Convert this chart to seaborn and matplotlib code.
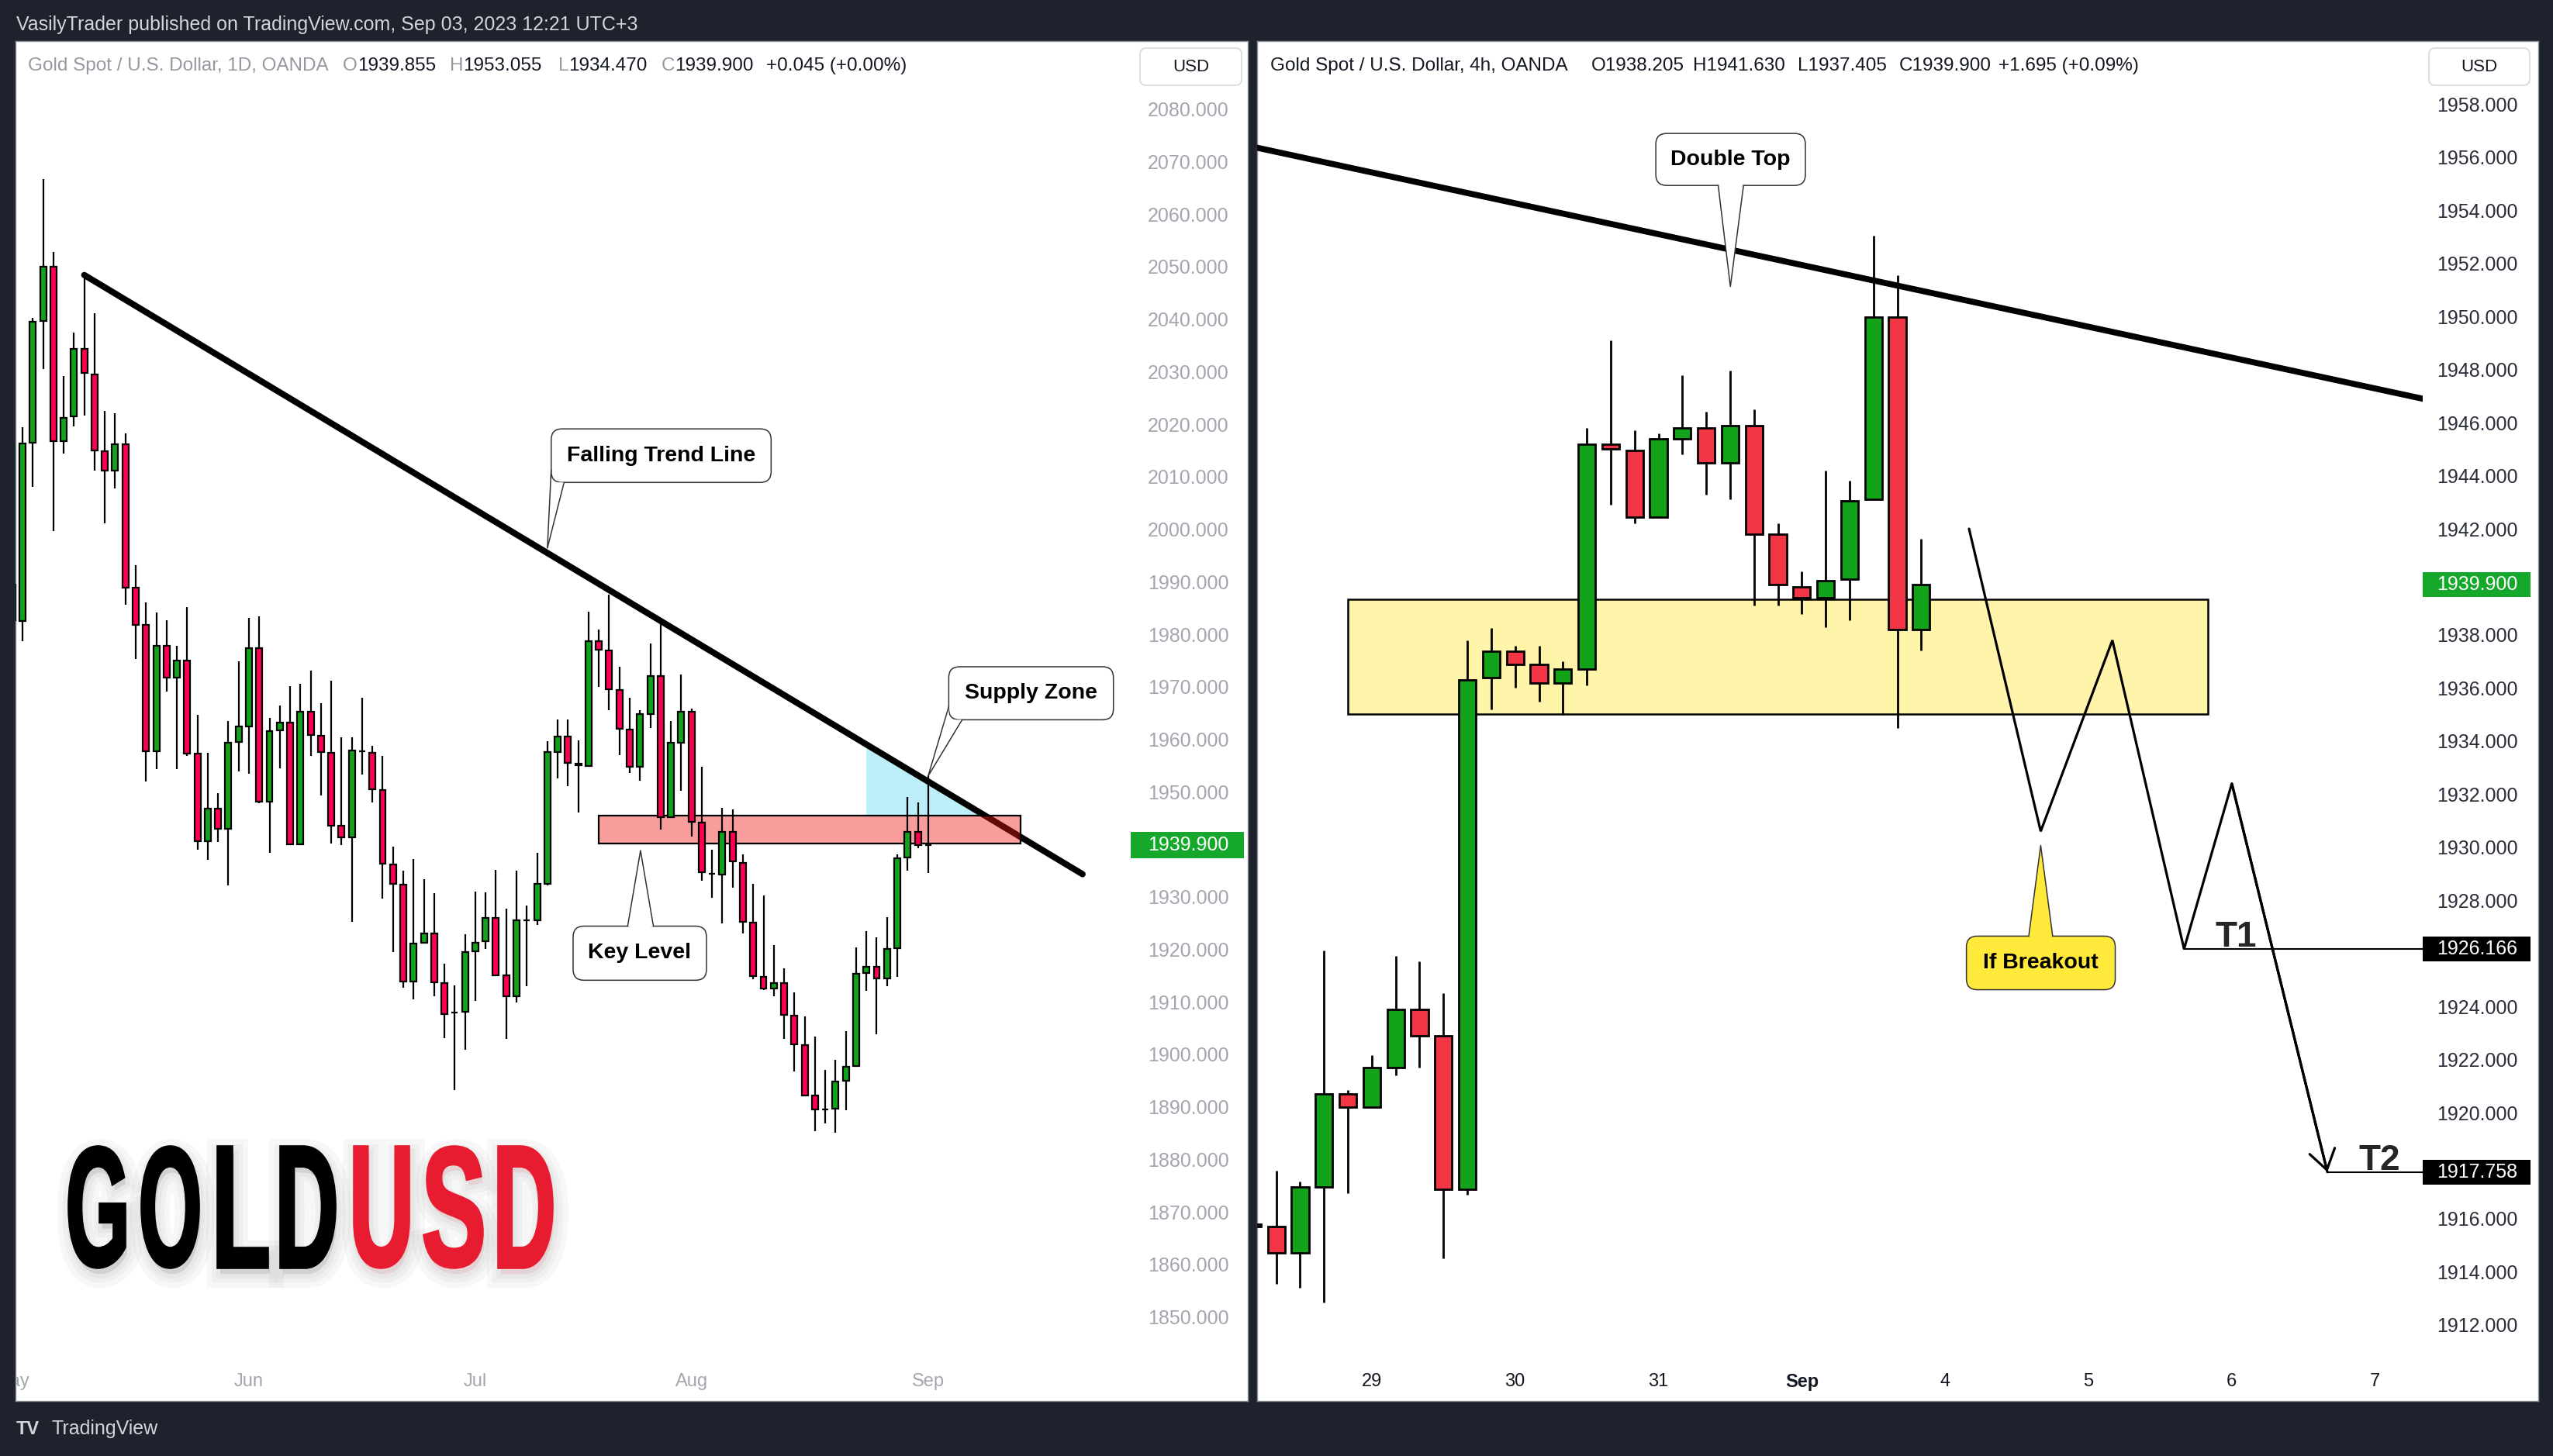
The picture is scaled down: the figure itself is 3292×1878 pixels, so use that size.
#!/usr/bin/env python3
"""
GOLD / USD - TradingView style snapshot: daily chart with falling trend line,
key level and supply zone, plus 4h chart with double top and breakout path.
Run: python plot.py  ->  out.png
"""

import numpy as np
import pandas as pd
import matplotlib
matplotlib.use("Agg")
import matplotlib.pyplot as plt
import matplotlib.patheffects as pe
import matplotlib.transforms as mtransforms
from matplotlib.patches import Rectangle, FancyBboxPatch, Polygon, PathPatch
from matplotlib.textpath import TextPath
from matplotlib.font_manager import FontProperties
from matplotlib.path import Path
import seaborn as sns

W, H, DPI = 3292, 1878, 100

# ═══════════════════════════════════════════════════════════════════════════════
# Data
# ═══════════════════════════════════════════════════════════════════════════════
# daily candles, index 0 = May 1 2023 ... 89 = Sep 1 2023
d_open = [1989.5, 1982.5, 2016.4, 2039.6, 2050.0, 2016.8, 2021.5, 2034.4, 2029.5, 2014.9,
          2011.1, 2016.1, 1988.8, 1981.8, 1957.7, 1977.8, 1971.7, 1975.0, 1957.3, 1940.6,
          1946.8, 1943.0, 1959.5, 1962.5, 1977.4, 1948.1, 1961.7, 1963.2, 1940.0, 1965.3,
          1960.7, 1957.4, 1943.5, 1941.3, 1957.7, 1957.4, 1950.3, 1936.1, 1932.3, 1913.9,
          1921.3, 1923.0, 1913.6, 1907.9, 1908.1, 1919.6, 1921.5, 1925.9, 1915.0, 1911.1,
          1925.5, 1925.5, 1932.4, 1957.5, 1960.5, 1955.3, 1954.9, 1978.7, 1976.9, 1969.4,
          1961.9, 1954.8, 1964.8, 1972.1, 1945.1, 1959.4, 1965.3, 1944.1, 1934.4, 1934.3,
          1942.4, 1936.4, 1925.1, 1914.8, 1912.5, 1913.6, 1907.4, 1901.7, 1892.1, 1889.5,
          1889.7, 1895.0, 1897.8, 1915.5, 1916.6, 1914.5, 1920.2, 1937.5, 1942.4, 1939.855]
d_high = [1992.0, 2019.4, 2040.3, 2066.7, 2052.8, 2029.2, 2037.5, 2048.4, 2041.1, 2022.5,
          2022.1, 2018.3, 1993.1, 1986.1, 1984.2, 1982.7, 1977.8, 1985.2, 1964.7, 1957.4,
          1949.7, 1963.4, 1974.8, 1983.1, 1983.4, 1964.0, 1966.4, 1970.1, 1970.6, 1973.1,
          1966.9, 1971.1, 1960.3, 1960.3, 1967.9, 1958.7, 1956.8, 1939.5, 1934.9, 1937.2,
          1933.3, 1930.7, 1917.2, 1913.1, 1922.8, 1931.0, 1930.8, 1935.1, 1927.7, 1934.9,
          1928.3, 1938.4, 1959.6, 1963.7, 1963.7, 1959.8, 1984.3, 1980.9, 1987.5, 1973.8,
          1967.9, 1965.6, 1978.3, 1981.9, 1963.5, 1972.3, 1965.8, 1954.8, 1938.9, 1946.9,
          1946.7, 1938.1, 1932.5, 1930.2, 1920.8, 1916.3, 1911.8, 1907.2, 1903.4, 1897.0,
          1898.9, 1904.4, 1920.4, 1923.4, 1922.3, 1926.1, 1938.0, 1949.0, 1947.9, 1953.055]
d_low = [1977.0, 1978.6, 2008.0, 2030.5, 1999.6, 2014.4, 2019.5, 2021.7, 2011.2, 2001.1,
         2007.8, 1985.6, 1975.3, 1952.0, 1954.3, 1969.1, 1954.3, 1956.8, 1939.0, 1937.0,
         1940.5, 1932.2, 1953.9, 1953.4, 1947.8, 1938.3, 1954.5, 1940.0, 1939.8, 1956.8,
         1949.3, 1940.2, 1939.8, 1925.2, 1953.3, 1948.0, 1929.7, 1919.4, 1912.7, 1910.4,
         1921.3, 1911.1, 1903.1, 1893.2, 1900.9, 1910.2, 1920.1, 1914.9, 1902.9, 1909.8,
         1912.9, 1924.7, 1932.2, 1952.6, 1951.1, 1946.0, 1954.7, 1969.9, 1965.5, 1957.0,
         1953.5, 1952.1, 1962.1, 1942.8, 1945.1, 1950.2, 1941.5, 1933.1, 1929.8, 1924.9,
         1931.7, 1923.0, 1914.3, 1912.3, 1911.0, 1902.9, 1896.7, 1892.2, 1885.3, 1886.9,
         1885.0, 1889.3, 1897.8, 1912.1, 1903.8, 1913.0, 1914.7, 1935.0, 1939.2, 1934.47]
d_close = [1982.7, 2016.3, 2039.5, 2050.0, 2016.8, 2021.2, 2034.4, 2029.7, 2015.0, 2011.1,
           2016.1, 1988.9, 1981.8, 1957.7, 1977.8, 1971.7, 1975.0, 1957.3, 1940.6, 1946.8,
           1943.0, 1959.4, 1962.5, 1977.4, 1948.1, 1961.5, 1963.2, 1940.0, 1965.3, 1960.8,
           1957.5, 1943.6, 1941.3, 1957.9, 1957.7, 1950.4, 1936.3, 1932.4, 1913.9, 1921.1,
           1923.0, 1913.7, 1907.7, 1907.9, 1919.5, 1921.3, 1925.9, 1915.1, 1911.1, 1925.5,
           1925.5, 1932.4, 1957.5, 1960.5, 1955.5, 1955.0, 1978.7, 1977.1, 1969.5, 1962.0,
           1954.8, 1964.8, 1972.1, 1945.1, 1959.3, 1965.3, 1944.3, 1934.7, 1934.4, 1942.4,
           1936.7, 1925.2, 1914.9, 1912.5, 1913.6, 1907.5, 1901.9, 1892.2, 1889.5, 1889.5,
           1894.8, 1897.6, 1915.3, 1916.6, 1914.5, 1920.0, 1937.4, 1942.4, 1939.8, 1939.9]
d_tick_pos = [0, 23, 45, 66, 89]
d_tick_lab = ["May", "Jun", "Jul", "Aug", "Sep"]
d_price_ticks = list(range(1850, 2081, 10))

# 4h candles, index 5 = first bar of Aug 29, 23 = first bar of Sep 1
h4_open = [1915.8, 1915.7, 1914.7, 1917.2, 1920.7, 1920.2, 1921.7, 1923.9, 1922.9, 1917.1,
           1936.4, 1937.4, 1936.9, 1936.2, 1936.7, 1945.2, 1944.95, 1942.45, 1945.4, 1945.8,
           1944.5, 1945.9, 1941.8, 1939.8, 1939.4, 1940.1, 1943.1, 1949.98, 1938.205]
h4_high = [1916.0, 1917.8, 1917.4, 1926.1, 1920.85, 1922.15, 1925.9, 1925.7, 1924.5, 1937.8,
           1938.25, 1937.6, 1937.6, 1937.0, 1945.8, 1949.1, 1945.7, 1945.6, 1947.8, 1946.4,
           1947.96, 1946.5, 1942.2, 1940.4, 1944.2, 1943.8, 1953.06, 1951.55, 1941.63]
h4_low = [1915.5, 1913.55, 1913.4, 1912.85, 1916.95, 1920.2, 1921.4, 1921.7, 1914.5, 1916.9,
          1935.2, 1936.0, 1935.5, 1935.0, 1936.1, 1942.9, 1942.2, 1942.45, 1944.8, 1943.3,
          1943.1, 1939.1, 1939.1, 1938.8, 1938.3, 1938.55, 1943.1, 1934.5, 1937.405]
h4_close = [1915.7, 1914.7, 1917.2, 1920.7, 1920.2, 1921.7, 1923.9, 1922.9, 1917.1, 1936.3,
            1937.4, 1936.9, 1936.2, 1936.7, 1945.2, 1945.0, 1942.45, 1945.4, 1945.8, 1944.5,
            1945.9, 1941.8, 1939.9, 1939.4, 1940.05, 1943.05, 1949.98, 1938.2, 1939.9]
h4_tick_pos = [5, 11, 17, 23, 29, 35, 41, 47]
h4_tick_lab = ["29", "30", "31", "Sep", "4", "5", "6", "7"]
h4_price_ticks = list(range(1912, 1959, 2))

# drawings on the daily chart
d_trend_x, d_trend_y = [7, 104], [2048.4, 1934.3]
d_key_x, d_key_y = [57, 98], [1940.2, 1945.4]
d_blue_x0 = 83
d_last = 1939.9

# drawings on the 4h chart
h4_trend_x, h4_trend_y = [0, 49], [1956.4, 1946.9]
h4_zone_x, h4_zone_y = [4, 40], [1935.03, 1939.33]
proj_x = [30, 33, 36, 39, 41, 45]
proj_y = [1942.0, 1930.6, 1937.8, 1926.166, 1932.4, 1917.758]
t1_level, t2_level = 1926.166, 1917.758
h4_last = 1939.9

# callouts: text, box (x0, x1, y0, y1), tip, base1, inner, base2, face
d_callouts = [
    ("Falling Trend Line", (52.37, 73.74, 2008.9, 2019.1), (52.0, 1996.4),
     (52.37, 2011.3), (52.37, 2008.9), (53.62, 2008.9), "white"),
    ("Supply Zone", (91.0, 107.0, 1963.7, 1973.8), (89.0, 1953.0),
     (91.0, 1966.2), (91.0, 1963.7), (92.3, 1963.7), "white"),
    ("Key Level", (54.5, 67.46, 1914.1, 1924.4), (61.05, 1938.8),
     (59.8, 1924.4), (61.05, 1923.6), (62.3, 1924.4), "white"),
]
h4_callouts = [
    ("Double Top", (16.89, 23.15, 1954.94, 1956.9), (20.01, 1951.13),
     (19.5, 1954.94), (20.03, 1955.2), (20.56, 1954.94), "white"),
    ("If Breakout", (29.89, 36.12, 1924.63, 1926.65), (33.0, 1930.07),
     (32.5, 1926.65), (33.0, 1926.4), (33.5, 1926.65), "#FFE93B"),
]

# ═══════════════════════════════════════════════════════════════════════════════
# Layout (pixel boxes, top-down) and helpers
# ═══════════════════════════════════════════════════════════════════════════════
L_PANEL, L_PLOT = (20, 53, 1609, 1807), (20, 53, 1458, 1753)
R_PANEL, R_PLOT = (1621, 53, 3273, 1807), (1621, 53, 3124, 1753)
L_XLIM, L_YLIM = (0.32, 108.68), (1841.95, 2092.95)
R_XLIM, R_YLIM = (0.2, 48.99), (1910.71, 1960.38)

GREEN, RED_D, RED_H = "#12A31A", "#FF0050", "#F23646"
TAG_GREEN = "#16A82A"

sns.set_theme(style="white")
plt.rcParams["font.family"] = ["Liberation Sans", "DejaVu Sans"]

fig = plt.figure(figsize=(W / DPI, H / DPI), dpi=DPI)
fig.patch.set_facecolor("#1E222D")


def frac(box):
    x0, y0, x1, y1 = box
    return [x0 / W, 1 - y1 / H, (x1 - x0) / W, (y1 - y0) / H]


def px_per_unit(plot_box, xlim, ylim):
    return ((plot_box[2] - plot_box[0]) / (xlim[1] - xlim[0]),
            (plot_box[3] - plot_box[1]) / (ylim[1] - ylim[0]))


def make_panel(panel_box, plot_box, xlim, ylim, yticks, label_color, pad_px, tags):
    bg = fig.add_axes(frac(panel_box), zorder=0)
    bg.set_facecolor("white")
    bg.set_xticks([])
    bg.set_yticks([])
    for sp in bg.spines.values():
        sp.set_color("#8C8F99")
        sp.set_linewidth(1.0)
    ax = fig.add_axes(frac(plot_box), zorder=1)
    ax.patch.set_alpha(0)
    ax.set_xlim(xlim)
    ax.set_ylim(ylim)
    for sp in ax.spines.values():
        sp.set_visible(False)
    ax.set_xticks([])
    # the price scale hides labels that sit under a price tag
    _, ppy = px_per_unit(plot_box, xlim, ylim)
    shown = [v for v in yticks if all(abs(v - t) * ppy > 26 for t in tags)]
    ax.yaxis.tick_right()
    ax.set_yticks(shown)
    ax.set_yticklabels([f"{v:.3f}" for v in shown])
    ax.tick_params(axis="y", length=0, pad=pad_px * 72 / DPI, labelsize=18,
                   labelcolor=label_color)
    ax.grid(False)
    return bg, ax


def draw_candles(ax, o, h, l, c, up, down, width, lw):
    df = pd.DataFrame({"open": o, "high": h, "low": l, "close": c})
    x = np.arange(len(df))
    ax.vlines(x, df["low"], df["high"], color="black", lw=lw, zorder=3)
    body_lo = df[["open", "close"]].min(axis=1)
    body_h = (df["close"] - df["open"]).abs()
    colors = np.where(df["close"] >= df["open"], up, down)
    ax.bar(x, body_h, width, bottom=body_lo, color=colors, edgecolor="black",
           linewidth=lw, zorder=4)


def date_labels(ax, bg, pos, labels, color, plot_h, bold=None):
    tr = mtransforms.blended_transform_factory(ax.transData, ax.transAxes)
    for p, s in zip(pos, labels):
        t = ax.text(p, -29 / plot_h, s, transform=tr, ha="center", va="center",
                    fontsize=17, color=color, clip_on=True,
                    fontweight="bold" if s == bold else "normal")
        t.set_clip_path(bg.patch)


def price_tag(ax, price, text, color, plot_box, ylim, tag_w, tag_h, pad_px):
    aw = plot_box[2] - plot_box[0]
    ppy = (plot_box[3] - plot_box[1]) / (ylim[1] - ylim[0])
    tr = mtransforms.blended_transform_factory(ax.transAxes, ax.transData)
    h = tag_h / ppy
    ax.add_patch(Rectangle((1.0, price - h / 2), tag_w / aw, h, transform=tr,
                           fc=color, ec="none", clip_on=False, zorder=20))
    ax.text(1 + pad_px / aw, price, text, transform=tr, ha="left", va="center",
            color="white", fontsize=18, clip_on=False, zorder=21)


def callout(ax, spec, aspect, rnd):
    text, (x0, x1, y0, y1), tip, b1, inner, b2, face = spec
    ax.add_patch(FancyBboxPatch((x0, y0), x1 - x0, y1 - y0,
                                boxstyle=f"round,pad=0,rounding_size={rnd}",
                                mutation_aspect=aspect, fc=face, ec="#333333",
                                lw=1.1, zorder=8))
    ax.add_patch(Polygon([tip, b1, inner, b2], closed=True, fc=face, ec="none", zorder=9))
    ax.plot([b1[0], tip[0], b2[0]], [b1[1], tip[1], b2[1]], color="#333333", lw=1.1,
            zorder=9)
    ax.text((x0 + x1) / 2, (y0 + y1) / 2, text, ha="center", va="center",
            fontsize=20.5, fontweight="bold", color="black", zorder=10)


# ═══════════════════════════════════════════════════════════════════════════════
# Left panel — daily
# ═══════════════════════════════════════════════════════════════════════════════
bgL, axL = make_panel(L_PANEL, L_PLOT, L_XLIM, L_YLIM, d_price_ticks, "#A3A6AF", 22,
                      [d_last])
lpx, lpy = px_per_unit(L_PLOT, L_XLIM, L_YLIM)

# light blue wedge between trend line and the key level
slope = (d_trend_y[1] - d_trend_y[0]) / (d_trend_x[1] - d_trend_x[0])
x_cross = d_trend_x[0] + (d_key_y[1] - d_trend_y[0]) / slope
axL.fill([d_blue_x0, d_blue_x0, x_cross],
         [np.interp(d_blue_x0, d_trend_x, d_trend_y), d_key_y[1], d_key_y[1]],
         color="#BDEFFB", lw=0, zorder=1.2)

sns.lineplot(x=d_trend_x, y=d_trend_y, ax=axL, color="black", lw=5.8, zorder=1.8,
             solid_capstyle="round", legend=False)
axL.add_patch(Rectangle((d_key_x[0], d_key_y[0]), d_key_x[1] - d_key_x[0],
                        d_key_y[1] - d_key_y[0], fc=(0.94, 0.08, 0.08, 0.42),
                        ec="black", lw=1.6, zorder=2.5))

draw_candles(axL, d_open, d_high, d_low, d_close, GREEN, RED_D, 0.6, 1.6)

for spec in d_callouts:
    callout(axL, spec, lpx / lpy, 14 / lpx)

date_labels(axL, bgL, d_tick_pos, d_tick_lab, "#A3A6AF", L_PLOT[3] - L_PLOT[1])
price_tag(axL, d_last, f"{d_last:.3f}", TAG_GREEN, L_PLOT, L_YLIM, 146, 34, 22)

# ═══════════════════════════════════════════════════════════════════════════════
# Right panel — 4h
# ═══════════════════════════════════════════════════════════════════════════════
bgR, axR = make_panel(R_PANEL, R_PLOT, R_XLIM, R_YLIM, h4_price_ticks, "#2A2E39", 18,
                      [h4_last, t1_level, t2_level])
rpx, rpy = px_per_unit(R_PLOT, R_XLIM, R_YLIM)

axR.add_patch(Rectangle((h4_zone_x[0], h4_zone_y[0]), h4_zone_x[1] - h4_zone_x[0],
                        h4_zone_y[1] - h4_zone_y[0], fc="#FFF5AA", ec="black", lw=1.8,
                        zorder=1.5))
sns.lineplot(x=h4_trend_x, y=h4_trend_y, ax=axR, color="black", lw=5.6, zorder=2,
             legend=False)

draw_candles(axR, h4_open, h4_high, h4_low, h4_close, GREEN, RED_H, 0.72, 2.0)

sns.lineplot(x=proj_x, y=proj_y, ax=axR, color="black", lw=2.3, zorder=6, legend=False,
             solid_joinstyle="miter")
axR.annotate("", xy=(proj_x[-1], proj_y[-1]), xytext=(proj_x[-2], proj_y[-2]),
             arrowprops=dict(arrowstyle="->,head_length=0.45,head_width=0.3", lw=2.3,
                             color="black", shrinkA=0, shrinkB=0, mutation_scale=40),
             zorder=6)
axR.plot([proj_x[3], R_XLIM[1]], [t1_level, t1_level], color="black", lw=1.5, zorder=6)
axR.plot([proj_x[5], R_XLIM[1]], [t2_level, t2_level], color="black", lw=1.5, zorder=6)
axR.text(40.3, t1_level + 0.08, "T1", fontsize=33, fontweight="bold", ha="left",
         va="baseline", zorder=7)
axR.text(46.3, t2_level + 0.08, "T2", fontsize=33, fontweight="bold", ha="left",
         va="baseline", zorder=7)

for spec in h4_callouts:
    callout(axR, spec, rpx / rpy, 14 / rpx)

date_labels(axR, bgR, h4_tick_pos, h4_tick_lab, "#131722", R_PLOT[3] - R_PLOT[1],
            bold="Sep")
price_tag(axR, h4_last, f"{h4_last:.3f}", TAG_GREEN, R_PLOT, R_YLIM, 139, 32, 18)
price_tag(axR, t1_level, f"{t1_level:.3f}", "#000000", R_PLOT, R_YLIM, 139, 32, 18)
price_tag(axR, t2_level, f"{t2_level:.3f}", "#000000", R_PLOT, R_YLIM, 139, 32, 18)

# ═══════════════════════════════════════════════════════════════════════════════
# Chrome: header, legends, USD boxes, GOLDUSD title, footer (pixel overlay)
# ═══════════════════════════════════════════════════════════════════════════════
axP = fig.add_axes([0, 0, 1, 1], zorder=5)
axP.set_xlim(0, W)
axP.set_ylim(H, 0)
axP.axis("off")
axP.patch.set_visible(False)

axP.text(21, 32, "VasilyTrader published on TradingView.com, Sep 03, 2023 12:21 UTC+3",
         va="center", ha="left", fontsize=18, color="#D1D4DC")

LEG_GRAY, LEG_DARK, LEG_FS = "#9598A1", "#131722", 17.5
axP.text(36, 85, "Gold Spot / U.S. Dollar, 1D, OANDA", va="center", fontsize=LEG_FS,
         color=LEG_GRAY)
for x, letter, val in [(442, "O", "1939.855"), (580, "H", "1953.055"),
                       (720, "L", "1934.470"), (853, "C", "1939.900")]:
    t = axP.text(x, 85, letter, va="center", fontsize=LEG_FS, color=LEG_GRAY)
    axP.annotate(val, xy=(1, 0.5), xycoords=t, va="center", ha="left",
                 fontsize=LEG_FS, color=LEG_DARK)
axP.text(988, 85, "+0.045 (+0.00%)", va="center", fontsize=LEG_FS, color=LEG_DARK)

for x, s in [(1638, "Gold Spot / U.S. Dollar, 4h, OANDA"), (2052, "O1938.205"),
             (2183, "H1941.630"), (2318, "L1937.405"), (2449, "C1939.900"),
             (2577, "+1.695 (+0.09%)")]:
    axP.text(x, 85, s, va="center", fontsize=LEG_FS, color=LEG_DARK)

for x0, x1 in [(1470, 1601), (3132, 3262)]:
    axP.add_patch(FancyBboxPatch((x0, 62), x1 - x0, 48,
                                 boxstyle="round,pad=0,rounding_size=8",
                                 fc="white", ec="#D6D8DE", lw=1.2))
    axP.text((x0 + x1) / 2, 87, "USD", ha="center", va="center", fontsize=16,
             color="#131722")

fp_big = FontProperties(family="Liberation Sans", weight="bold")


def big_letters(ax, slots, y0, y1, color):
    # each glyph is squeezed into its own slot, giving a tall condensed look
    shadow = [pe.Stroke(offset=(2, -6), linewidth=w, foreground="black", alpha=0.03)
              for w in (26, 16, 8)]
    for ch, x0, x1 in slots:
        tp = TextPath((0, 0), ch, size=100, prop=fp_big)
        ext = tp.get_extents()
        v = np.array(tp.vertices, dtype=float)
        v[:, 0] = x0 + (v[:, 0] - ext.x0) / ext.width * (x1 - x0)
        v[:, 1] = y1 - (v[:, 1] - ext.y0) / ext.height * (y1 - y0)
        ax.add_patch(PathPatch(Path(v, tp.codes), fc=color, ec=color, lw=2.6, zorder=3,
                               path_effects=shadow + [pe.Normal()]))


big_letters(axP, [("G", 89, 161), ("O", 183, 256), ("L", 281, 345), ("D", 362, 432)],
            1479, 1635, "black")
big_letters(axP, [("U", 457, 527), ("S", 547, 622), ("D", 643, 712)],
            1479, 1635, "#E81C30")

axP.text(21, 1843, "TV", va="center", ha="left", fontsize=17, fontweight="bold",
         color="#D1D4DC")
axP.text(67, 1843, "TradingView", va="center", ha="left", fontsize=18, color="#D1D4DC")

fig.savefig("out.png", dpi=DPI, facecolor=fig.get_facecolor())
plt.close(fig)
